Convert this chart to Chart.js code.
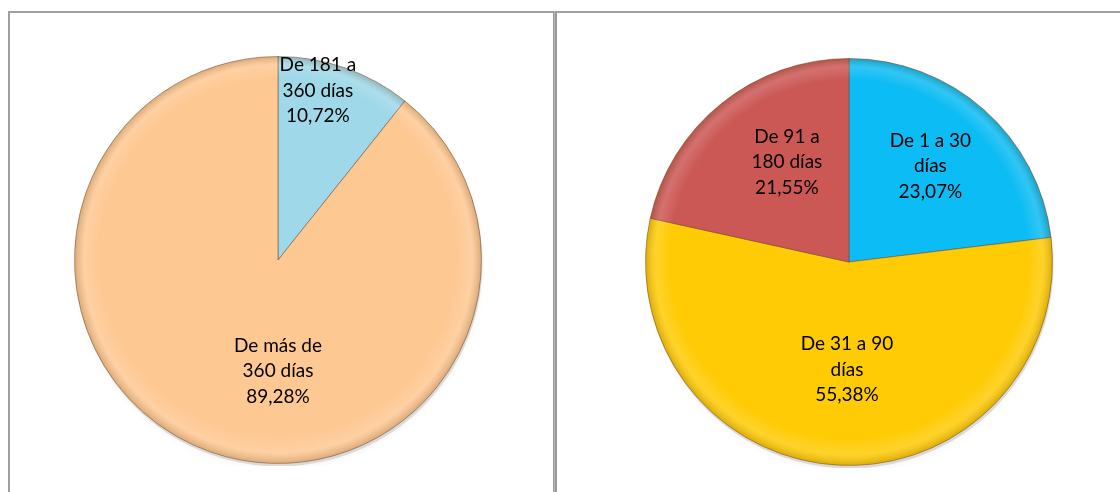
<!DOCTYPE html>
<html>
<head>
<meta charset="utf-8">
<script src="https://cdn.jsdelivr.net/npm/chart.js@4/dist/chart.umd.min.js"></script>
<style>
  html, body { margin: 0; padding: 0; background: #fff; }
  body { width: 1120px; height: 492px; position: relative; overflow: hidden; }
  .line { position: absolute; background: #a0a0a0; }
  .wrap { position: absolute; }
</style>
</head>
<body>
<div class="line" style="left:8px; top:11px; width:1112px; height:2px;"></div>
<div class="line" style="left:8px; top:11px; width:2px; height:481px;"></div>
<div class="line" style="left:553px; top:11px; width:4px; height:481px; background:#9a9a9a;"></div>
<div class="line" style="left:554px; top:11px; width:1px; height:481px; background:#b8b8b8;"></div>

<div class="wrap" style="left:72px; top:54px; width:412px; height:412px;"><canvas id="c1"></canvas></div>
<div class="wrap" style="left:643px; top:56px; width:412px; height:412px;"><canvas id="c2"></canvas></div>

<script>
// ---- Data ----
const leftCategories = [["De 181 a", "360 días"], ["De más de", "360 días"]];
const leftValues = [10.72, 89.28];
const rightCategories = [["De 1 a 30", "días"], ["De 31 a 90", "días"], ["De 91 a", "180 días"]];
const rightValues = [23.07, 55.38, 21.55];

// ---- Styles ----
const leftColors = ["#9fd8e8", "#fec893"];
const rightColors = ["#0cbcf4", "#ffcb05", "#cb5855"];
// label centre offsets, as fractions of the pie radius, relative to the pie centre
const leftLabelPos = [[0.196, -0.832], [0.0, 0.545]];
const rightLabelPos = [[0.40, -0.47], [-0.01, 0.53], [-0.305, -0.49]];

const fmt = v => v.toFixed(2).replace('.', ',') + '%';

const shadePlugin = {
  id: 'shade',
  beforeDatasetsDraw(chart) {
    const arc = chart.getDatasetMeta(0).data[0];
    if (!arc) return;
    const ctx = chart.ctx;
    ctx.save();
    ctx.beginPath();
    ctx.arc(arc.x + 1, arc.y + 3, arc.outerRadius, 0, Math.PI * 2);
    ctx.shadowColor = 'rgba(0,0,0,0.3)';
    ctx.shadowBlur = 6;
    ctx.shadowOffsetY = 2;
    ctx.fillStyle = 'rgba(0,0,0,0.12)';
    ctx.fill();
    ctx.restore();
  },
  afterDatasetsDraw(chart) {
    const meta = chart.getDatasetMeta(0);
    const ctx = chart.ctx;
    meta.data.forEach(arc => {
      const R = arc.outerRadius;
      ctx.save();
      ctx.beginPath();
      ctx.moveTo(arc.x, arc.y);
      ctx.arc(arc.x, arc.y, R, arc.startAngle, arc.endAngle);
      ctx.closePath();
      ctx.clip();
      const g = ctx.createRadialGradient(arc.x, arc.y - 3, R * 0.88, arc.x, arc.y, R);
      g.addColorStop(0, 'rgba(255,255,255,0)');
      g.addColorStop(0.6, 'rgba(255,255,255,0.15)');
      g.addColorStop(1, 'rgba(90,60,20,0.22)');
      ctx.fillStyle = g;
      ctx.fillRect(arc.x - R, arc.y - R, 2 * R, 2 * R);
      ctx.restore();
    });
  },
  afterDraw(chart) {
    const meta = chart.getDatasetMeta(0);
    const ctx = chart.ctx;
    const cats = chart.data.labels;
    const vals = chart.data.datasets[0].data;
    const pos = chart.options.plugins.shade.positions;
    ctx.save();
    ctx.font = '19px Lato, "Liberation Sans", sans-serif';
    ctx.fillStyle = '#000';
    ctx.textAlign = 'center';
    ctx.textBaseline = 'middle';
    meta.data.forEach((arc, i) => {
      const R = arc.outerRadius;
      const cx = arc.x + pos[i][0] * R;
      const cy = arc.y + pos[i][1] * R;
      const lines = cats[i].concat([fmt(vals[i])]);
      const lh = 25.5;
      lines.forEach((t, k) => {
        ctx.fillText(t, cx, cy + (k - (lines.length - 1) / 2) * lh);
      });
    });
    ctx.restore();
  }
};

function makePie(id, cats, vals, colors, positions) {
  return new Chart(document.getElementById(id), {
    type: 'pie',
    data: {
      labels: cats,
      datasets: [{
        data: vals,
        backgroundColor: colors,
        borderColor: 'rgba(110,70,40,0.5)',
        borderWidth: 1
      }]
    },
    options: {
      responsive: true,
      maintainAspectRatio: false,
      animation: false,
      layout: { padding: 2 },
      plugins: {
        legend: { display: false },
        tooltip: { enabled: false },
        shade: { positions: positions }
      }
    },
    plugins: [shadePlugin]
  });
}

makePie('c1', leftCategories, leftValues, leftColors, leftLabelPos);
makePie('c2', rightCategories, rightValues, rightColors, rightLabelPos);
</script>
</body>
</html>
